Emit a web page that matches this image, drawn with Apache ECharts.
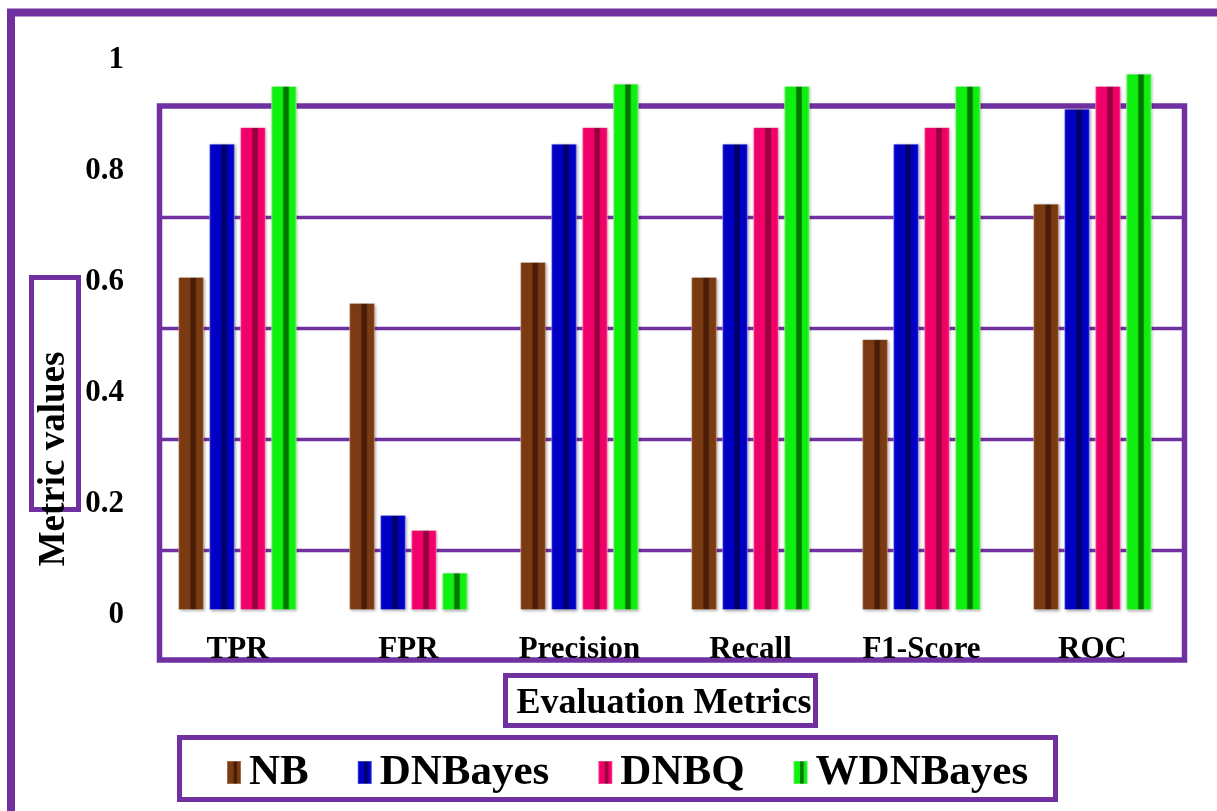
<!DOCTYPE html>
<html>
<head>
<meta charset="utf-8">
<script src="https://cdn.jsdelivr.net/npm/echarts@6/dist/echarts.min.js"></script>
<style>
  html, body { margin: 0; padding: 0; background: #ffffff; }
  #chart { width: 1217px; height: 811px; }
</style>
</head>
<body>
<div id="chart"></div>
<script>
// Evaluation metrics for four Bayesian classifiers
const categories = ['TPR', 'FPR', 'Precision', 'Recall', 'F1-Score', 'ROC'];
const seriesNames = ['NB', 'DNBayes', 'DNBQ', 'WDNBayes'];
const nbValues       = [0.60, 0.553, 0.627, 0.60, 0.488, 0.732];
const dnbayesValues  = [0.84, 0.171, 0.84, 0.84, 0.84, 0.903];
const dnbqValues     = [0.87, 0.144, 0.87, 0.87, 0.87, 0.944];
const wdnbayesValues = [0.944, 0.067, 0.948, 0.944, 0.944, 0.966];
const yTicks = [0, 0.2, 0.4, 0.6, 0.8, 1];

const FONT = "'Liberation Serif', 'Times New Roman', serif";
const PURPLE = '#7030A0';

// bevelled bar look: light edge, body, dark inner groove, body, shaded edge
function bevel(light, base, dark) {
  return {
    type: 'linear', x: 0, y: 0, x2: 1, y2: 0,
    colorStops: [
      { offset: 0, color: light },
      { offset: 0.1, color: base },
      { offset: 0.44, color: base },
      { offset: 0.5, color: dark },
      { offset: 0.66, color: dark },
      { offset: 0.72, color: base },
      { offset: 0.9, color: base },
      { offset: 1, color: light }
    ]
  };
}

const palette = [
  bevel('#a65a2c', '#7a3a12', '#4a1e06'),
  bevel('#3838f0', '#0000c4', '#00006a'),
  bevel('#ff4a92', '#f2006a', '#96003c'),
  bevel('#66ff66', '#10f010', '#007800')
];
const valueSets = [nbValues, dnbayesValues, dnbqValues, wdnbayesValues];

const series = seriesNames.map((name, i) => ({
  name: name,
  type: 'bar',
  data: valueSets[i],
  barWidth: 26,
  barGap: '19%',
  itemStyle: {
    color: palette[i],
    borderColor: 'rgba(255,255,255,0.25)',
    borderWidth: 1,
    shadowBlur: 3,
    shadowColor: 'rgba(0,0,0,0.35)',
    shadowOffsetX: 1,
    shadowOffsetY: 1
  },
  emphasis: { disabled: true }
}));

const chart = echarts.init(document.getElementById('chart'), null, { renderer: 'canvas' });

// frame and boxes drawn around the plot
const framePieces = [
  { type: 'line', shape: { x1: 7, y1: 12.5, x2: 1217, y2: 12.5 }, style: { stroke: PURPLE, lineWidth: 8 } },
  { type: 'line', shape: { x1: 11, y1: 9, x2: 11, y2: 811 }, style: { stroke: PURPLE, lineWidth: 8 } },
  { type: 'rect', shape: { x: 159.5, y: 106, width: 1025, height: 554 }, style: { fill: null, stroke: PURPLE, lineWidth: 5.5 } },
  { type: 'rect', shape: { x: 31.5, y: 277.5, width: 47, height: 232 }, style: { fill: null, stroke: PURPLE, lineWidth: 5 } },
  { type: 'rect', shape: { x: 505.5, y: 675.5, width: 310, height: 50 }, style: { fill: null, stroke: PURPLE, lineWidth: 5 } },
  { type: 'rect', shape: { x: 179.5, y: 737.5, width: 876, height: 62 }, style: { fill: null, stroke: PURPLE, lineWidth: 5 } }
];
[217.5, 328.5, 439.5, 550.5].forEach(y => {
  framePieces.push({ type: 'line', shape: { x1: 160, y1: y, x2: 1184, y2: y }, style: { stroke: PURPLE, lineWidth: 3.5 } });
});

chart.setOption({
  animation: false,
  backgroundColor: '#ffffff',
  grid: { left: 152, right: 39, top: 55, bottom: 201, containLabel: false },
  legend: {
    data: seriesNames,
    left: 221,
    top: 746,
    icon: 'rect',
    itemWidth: 14,
    itemHeight: 23,
    itemGap: 48,
    textStyle: { fontFamily: FONT, fontWeight: 'bold', fontSize: 43, color: '#000', padding: [0, 0, 0, 3] }
  },
  xAxis: {
    type: 'category',
    data: categories,
    axisLine: { show: false },
    axisTick: { show: false },
    axisLabel: { fontFamily: FONT, fontWeight: 'bold', fontSize: 31, color: '#000', margin: 24 },
    splitLine: { show: false }
  },
  yAxis: {
    type: 'value',
    min: 0,
    max: 1,
    interval: 0.2,
    axisLine: { show: false },
    axisTick: { show: false },
    splitLine: { show: false },
    axisLabel: {
      color: '#000', margin: 28,
      formatter: v => {
        const t = yTicks.find(k => Math.abs(k - v) < 1e-9);
        return t === undefined ? '' : '{t|' + t + '}';
      },
      rich: {
        t: { fontFamily: FONT, fontWeight: 'bold', fontSize: 31, color: '#000', padding: [10, 0, 0, 0] }
      }
    }
  },
  graphic: [
    { type: 'group', z: 100, children: framePieces },
    {
      type: 'text', z: 100,
      x: 54, y: 459, rotation: Math.PI / 2,
      style: { text: 'Metric values', font: "bold 37px 'Liberation Serif', 'Times New Roman', serif", fill: '#000', align: 'center', verticalAlign: 'middle' }
    },
    {
      type: 'text', z: 100,
      x: 664, y: 704,
      style: { text: 'Evaluation Metrics', font: "bold 36px 'Liberation Serif', 'Times New Roman', serif", fill: '#000', align: 'center', verticalAlign: 'middle' }
    }
  ],
  series: series
});
</script>
</body>
</html>
